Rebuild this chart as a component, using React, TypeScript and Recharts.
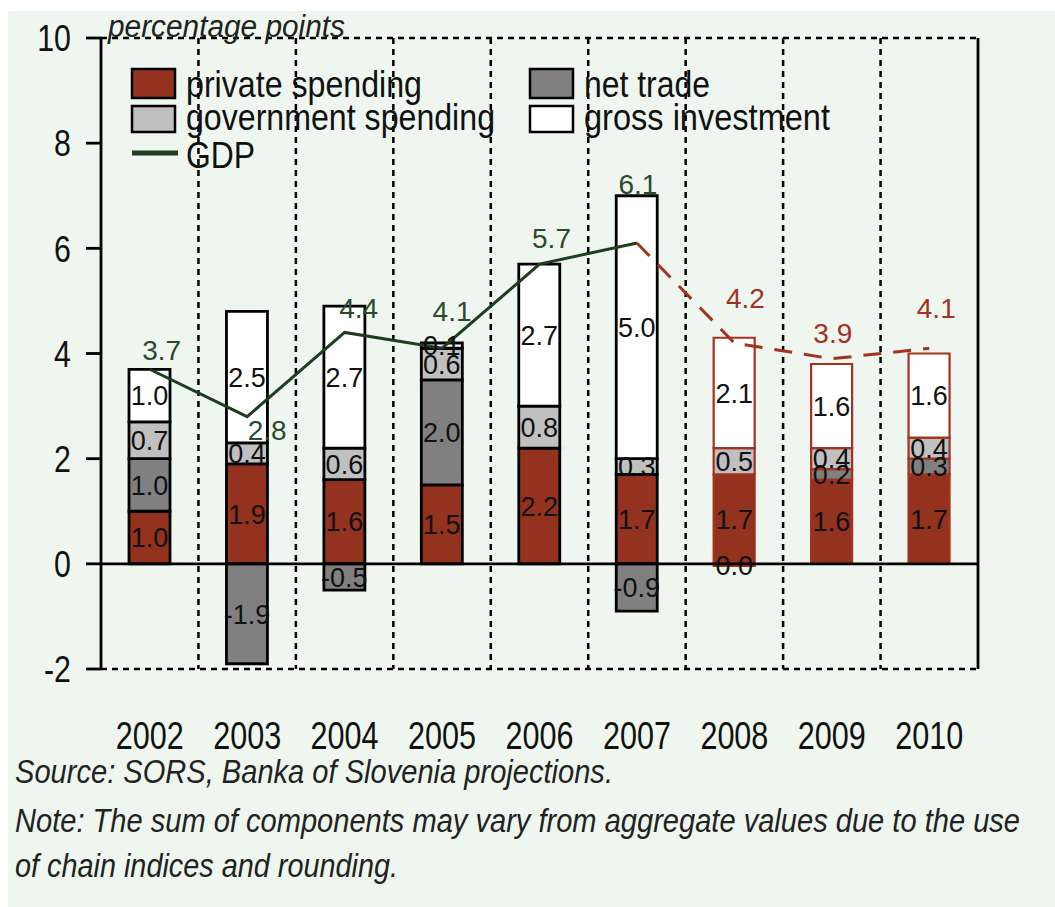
import React from 'react';
import {
  ComposedChart,
  Bar,
  Line,
  XAxis,
  YAxis,
  CartesianGrid,
  ReferenceLine,
  LabelList,
  Cell,
} from 'recharts';

// ---------- data ----------
const years = ['2002', '2003', '2004', '2005', '2006', '2007', '2008', '2009', '2010'];
const privateSpending = [1.0, 1.9, 1.6, 1.5, 2.2, 1.7, 1.7, 1.6, 1.7];
const netTrade = [1.0, -1.9, -0.5, 2.0, 0.0, -0.9, -0.04, 0.2, 0.3];
const governmentSpending = [0.7, 0.4, 0.6, 0.6, 0.8, 0.3, 0.5, 0.4, 0.4];
const grossInvestment = [1.0, 2.5, 2.7, 0.1, 2.7, 5.0, 2.1, 1.6, 1.6];
const gdp = [3.7, 2.8, 4.4, 4.1, 5.7, 6.1, 4.2, 3.9, 4.1];
const firstProjection = 6; // 2008 onwards are projections
const yTicks = [-2, 0, 2, 4, 6, 8, 10];
// GDP label nudges (label placement only)
const gdpLabelDx = [12, 20, 14, 10, 12, 1, 11, 1, 7];
const gdpLabelDy = [-19, 13, -25, -37, -26, -59, -45, -26, -40];

const seriesNames = {
  privateSpending: 'private spending',
  netTrade: 'net trade',
  governmentSpending: 'government spending',
  grossInvestment: 'gross investment',
  gdp: 'GDP',
};
const unitLabel = 'percentage points';
const sourceLines = [
  'Source: SORS, Banka of Slovenia projections.',
  'Note: The sum of components may vary from aggregate values due to the use',
  'of chain indices and rounding.',
];

// ---------- style ----------
const FONT = "'Liberation Sans', Arial, sans-serif";
const BG = '#eef6ef';
const RED = '#943220';
const DARK = '#808080';
const LIGHT = '#c0c0c0';
const GREEN = '#1f3d1f';
const PROJ = '#a3321f';
const NARROW_SCALE = 0.82;

const data = years.map((year, i) => ({
  year,
  privateSpending: privateSpending[i],
  netTrade: netTrade[i],
  governmentSpending: governmentSpending[i],
  grossInvestment: grossInvestment[i],
  gdpActual: i < firstProjection ? gdp[i] : null,
  gdpProj: i >= firstProjection - 1 ? gdp[i] : null,
}));

const fmt = (v: number) => (Math.round(v * 10) / 10 + 0).toFixed(1);

const NText = ({ x, y, anchor = 'start', size, children, fill = '#111', dy }: any) => (
  <text
    transform={`translate(${x},${y}) scale(${NARROW_SCALE},1)`}
    x={0}
    y={0}
    dy={dy}
    textAnchor={anchor}
    fontFamily={FONT}
    fontSize={size}
    fill={fill}
  >
    {children}
  </text>
);

const BarLabel = (props: any) => {
  const { x, y, width, height, value } = props;
  if (value === null || value === undefined) return null;
  return (
    <text
      x={x + width / 2}
      y={y + height / 2}
      dy="0.36em"
      textAnchor="middle"
      fontFamily={FONT}
      fontSize={27}
      fill="#111"
    >
      {fmt(value)}
    </text>
  );
};

const makeGdpLabel = (proj: boolean) => (props: any) => {
  const { x, y, value, index } = props;
  if (value === null || value === undefined) return null;
  if (proj && index < firstProjection) return null;
  return (
    <text
      x={x + gdpLabelDx[index]}
      y={y + gdpLabelDy[index]}
      dy="0.36em"
      textAnchor="middle"
      fontFamily={FONT}
      fontSize={28}
      fill={proj ? PROJ : '#2b4a2b'}
    >
      {fmt(value)}
    </text>
  );
};

const YearTick = (props: any) => {
  const { x, y, payload } = props;
  return (
    <text
      x={x}
      y={y + 80}
      textAnchor="middle"
      fontFamily={FONT}
      fontSize={38}
      fill="#111"
      textLength={68}
      lengthAdjust="spacingAndGlyphs"
    >
      {payload.value}
    </text>
  );
};

const makeYTick = (side: 'left' | 'right') => (props: any) => {
  const { x, y, payload } = props;
  return (
    <NText x={x} y={y} dy="0.36em" anchor={side === 'left' ? 'end' : 'start'} size={37}>
      {payload.value}
    </NText>
  );
};

const strokeFor = (i: number) => (i >= firstProjection ? PROJ : '#000');
const strokeWFor = (i: number) => (i >= firstProjection ? 2.2 : 2.8);

const barKeys: Array<[keyof typeof seriesNames, string]> = [
  ['privateSpending', RED],
  ['netTrade', DARK],
  ['governmentSpending', LIGHT],
  ['grossInvestment', '#ffffff'],
];

const legendItems = [
  { key: 'privateSpending', color: RED, col: 0, row: 0, len: 236 },
  { key: 'governmentSpending', color: LIGHT, col: 0, row: 1, len: 309 },
  { key: 'gdp', color: GREEN, col: 0, row: 2, line: true, len: 69 },
  { key: 'netTrade', color: DARK, col: 1, row: 0, len: 126 },
  { key: 'grossInvestment', color: '#ffffff', col: 1, row: 1, len: 246 },
];

export default function App() {
  return (
    <div
      style={{
        position: 'fixed',
        left: 8,
        top: 11,
        width: 1047,
        height: 896,
        background: BG,
        overflow: 'hidden',
      }}
    >
      <div style={{ position: 'absolute', left: 0, top: 0 }}>
        <ComposedChart
          width={1047}
          height={748}
          data={data}
          stackOffset="sign"
          barSize={41}
          margin={{ top: 27, right: 0, bottom: 0, left: 0 }}
        >
          <CartesianGrid
            stroke="#000"
            strokeWidth={2.5}
            strokeDasharray="6 5"
            verticalCoordinatesGenerator={({ offset }: any) =>
              years.slice(1).map((_, k) => offset.left + (offset.width * (k + 1)) / years.length)
            }
          />
          <XAxis
            dataKey="year"
            axisLine={false}
            tickLine={false}
            tickSize={0}
            tickMargin={0}
            height={90}
            tick={<YearTick />}
            interval={0}
          />
          <YAxis
            yAxisId="left"
            width={93}
            domain={[-2, 10]}
            ticks={yTicks}
            interval={0}
            axisLine={{ stroke: '#000', strokeWidth: 2.8 }}
            tickLine={{ stroke: '#000', strokeWidth: 2.8 }}
            tickSize={15}
            tickMargin={15}
            tick={makeYTick('left')}
          />
          <YAxis
            yAxisId="right"
            orientation="right"
            width={77}
            domain={[-2, 10]}
            ticks={yTicks}
            interval={0}
            axisLine={{ stroke: '#000', strokeWidth: 2.8 }}
            tickLine={{ stroke: '#000', strokeWidth: 2.8 }}
            tickSize={15}
            tickMargin={17}
            tick={makeYTick('right')}
          />
          {barKeys.map(([key, color]) => (
            <Bar
              key={key}
              yAxisId="left"
              dataKey={key}
              stackId="a"
              fill={color}
              isAnimationActive={false}
            >
              {data.map((_, i) => (
                <Cell key={i} fill={color} stroke={strokeFor(i)} strokeWidth={strokeWFor(i)} />
              ))}
              <LabelList dataKey={key} content={<BarLabel />} />
            </Bar>
          ))}
          <ReferenceLine yAxisId="left" y={0} stroke="#000" strokeWidth={2.8} />
          <Line
            yAxisId="left"
            dataKey="gdpActual"
            stroke={GREEN}
            strokeWidth={3}
            dot={false}
            isAnimationActive={false}
            connectNulls={false}
          >
            <LabelList dataKey="gdpActual" content={makeGdpLabel(false)} />
          </Line>
          <Line
            yAxisId="left"
            dataKey="gdpProj"
            stroke={PROJ}
            strokeWidth={3}
            strokeDasharray="18 12"
            dot={false}
            isAnimationActive={false}
            connectNulls={false}
          >
            <LabelList dataKey="gdpProj" content={makeGdpLabel(true)} />
          </Line>
        </ComposedChart>
      </div>
      <svg
        width={1047}
        height={896}
        style={{ position: 'absolute', left: 0, top: 0, pointerEvents: 'none' }}
      >
        <text
          x={100}
          y={26}
          fontFamily={FONT}
          fontStyle="italic"
          fontSize={31}
          fill="#222"
          textLength={237}
          lengthAdjust="spacingAndGlyphs"
        >
          {unitLabel}
        </text>
        {legendItems.map((it) => {
          const sx = it.col === 0 ? 124 : 522;
          const rowY = [58, 95, 129][it.row];
          const baseline = [86, 119, 157][it.row];
          return (
            <g key={it.key}>
              {it.line ? (
                <line x1={sx} x2={sx + 46} y1={142} y2={142} stroke={it.color} strokeWidth={5} />
              ) : (
                <rect
                  x={sx}
                  y={rowY}
                  width={43}
                  height={it.row === 0 ? 29 : 26}
                  fill={it.color}
                  stroke="#000"
                  strokeWidth={2.5}
                />
              )}
              <text
                x={sx + 54}
                y={baseline}
                fontFamily={FONT}
                fontSize={37}
                fill="#111"
                textLength={it.len}
                lengthAdjust="spacingAndGlyphs"
              >
                {seriesNames[it.key as keyof typeof seriesNames]}
              </text>
            </g>
          );
        })}
        <g fontFamily={FONT} fontStyle="italic" fontSize={33} fill="#222">
          <text x={7} y={772} textLength={598} lengthAdjust="spacingAndGlyphs">
            {sourceLines[0]}
          </text>
          <text x={7} y={821} textLength={1005} lengthAdjust="spacingAndGlyphs">
            {sourceLines[1]}
          </text>
          <text x={7} y={866} textLength={383} lengthAdjust="spacingAndGlyphs">
            {sourceLines[2]}
          </text>
        </g>
      </svg>
    </div>
  );
}
